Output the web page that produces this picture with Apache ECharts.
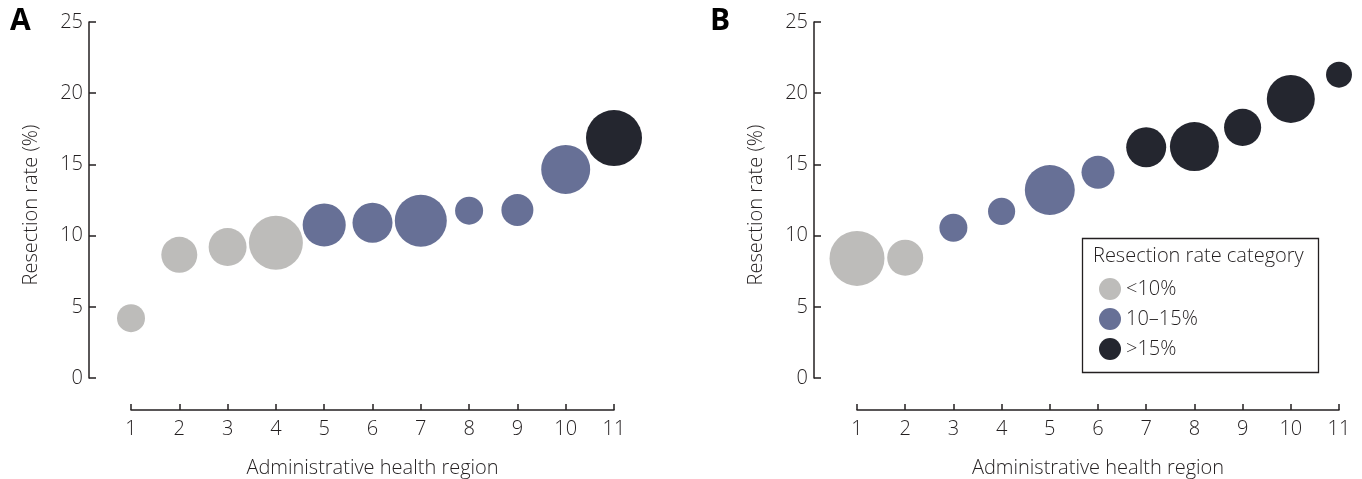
<!DOCTYPE html>
<html>
<head>
<meta charset="utf-8">
<script src="https://cdn.jsdelivr.net/npm/echarts@6/dist/echarts.min.js"></script>
<style>
html,body{margin:0;padding:0;background:#fff;}
#c{width:1362px;height:479px;}
</style>
</head>
<body>
<div id="c"></div>
<script>
// Data
const regions = [1, 2, 3, 4, 5, 6, 7, 8, 9, 10, 11];
const rateA = [4.2, 8.65, 9.2, 9.5, 10.75, 10.9, 11.05, 11.75, 11.8, 14.65, 16.85];
const volumeA = [49, 81, 90, 182, 116, 100, 169, 49, 64, 150, 196];
const rateB = [8.4, 8.45, 10.55, 11.7, 13.2, 14.45, 16.2, 16.25, 17.6, 19.6, 21.3];
const volumeB = [189, 81, 49, 46, 156, 68, 100, 150, 86, 144, 42];
const yTicks = [0, 5, 10, 15, 20, 25];
const categoryNames = ['<10%', '10\u201315%', '>15%'];
const categoryColors = ['#bdbcba', '#677096', '#24262f'];

const FONT = 'Open Sans';
const TXT = '#231f20';
const FS = 20;

function catOf(v) { return v < 10 ? 0 : (v <= 15 ? 1 : 2); }
function sizeOf(vol) { return 4 * Math.sqrt(vol); }

function buildSeries(rates, vols, idx) {
  return categoryNames.map((name, c) => ({
    type: 'scatter',
    name: name,
    xAxisIndex: idx,
    yAxisIndex: idx,
    clip: false,
    itemStyle: { color: categoryColors[c], opacity: 1 },
    emphasis: { disabled: true },
    symbolSize: (val) => sizeOf(val[2]),
    data: regions.map((r, i) => [r, rates[i], vols[i]]).filter(d => catOf(d[1]) === c)
  }));
}

const lineStyle = { color: TXT, width: 1.5 };
const labelStyle = { color: TXT, fontFamily: FONT, fontSize: FS, fontWeight: 300 };

function xAxis(idx) {
  return {
    gridIndex: idx, type: 'value', min: 1, max: 11, interval: 1,
    offset: 32,
    axisLine: { show: true, onZero: false, lineStyle: lineStyle },
    axisTick: { show: true, inside: true, length: 6, lineStyle: lineStyle },
    axisLabel: Object.assign({ margin: 9 }, labelStyle),
    splitLine: { show: false },
    name: 'Administrative health region', nameLocation: 'middle', nameGap: 48,
    nameTextStyle: { color: TXT, fontFamily: FONT, fontSize: FS, fontWeight: 300 }
  };
}
function yAxis(idx, off) {
  return {
    gridIndex: idx, type: 'value', min: 0, max: 25, interval: 5,
    offset: off,
    axisLine: { show: true, onZero: false, lineStyle: lineStyle },
    axisTick: { show: true, inside: true, length: 7, lineStyle: lineStyle },
    axisLabel: Object.assign({ margin: 6, formatter: (v) => yTicks.includes(v) ? String(v) : '' }, labelStyle),
    splitLine: { show: false },
    name: 'Resection rate (%)', nameLocation: 'middle', nameGap: 48,
    nameTextStyle: { color: TXT, fontFamily: FONT, fontSize: FS, fontWeight: 300, padding: [0, 10, 0, 0] }
  };
}

const chart = echarts.init(document.getElementById('c'), null, { renderer: 'canvas' });
chart.setOption({
  animation: false,
  backgroundColor: '#fff',
  grid: [
    { left: 131, top: 22, width: 483, height: 356, outerBoundsMode: 'none', containLabel: false },
    { left: 857, top: 22, width: 482, height: 356, outerBoundsMode: 'none', containLabel: false }
  ],
  xAxis: [xAxis(0), xAxis(1)],
  yAxis: [yAxis(0, 42), yAxis(1, 43)],
  legend: {
    data: categoryNames,
    orient: 'vertical',
    left: 1094, top: 273,
    icon: 'circle',
    itemWidth: 22, itemHeight: 22, itemGap: 8,
    selectedMode: false,
    textStyle: { color: TXT, fontFamily: FONT, fontSize: FS, fontWeight: 300 }
  },
  graphic: [
    { type: 'text', left: 10, top: 6, style: { text: 'A', fill: '#000', font: 'bold 30px "Open Sans"' } },
    { type: 'text', left: 710, top: 6, style: { text: 'B', fill: '#000', font: 'bold 30px "Open Sans"' } },
    { type: 'rect', shape: { x: 1082.5, y: 238.5, width: 236, height: 134 }, style: { fill: 'none', stroke: TXT, lineWidth: 1.3 }, z: 10 },
    { type: 'text', x: 1093, y: 246, style: { text: 'Resection rate category', fill: TXT, font: '300 20px "Open Sans"' }, z: 10 }
  ],
  series: buildSeries(rateA, volumeA, 0).concat(buildSeries(rateB, volumeB, 1))
});
</script>
</body>
</html>
